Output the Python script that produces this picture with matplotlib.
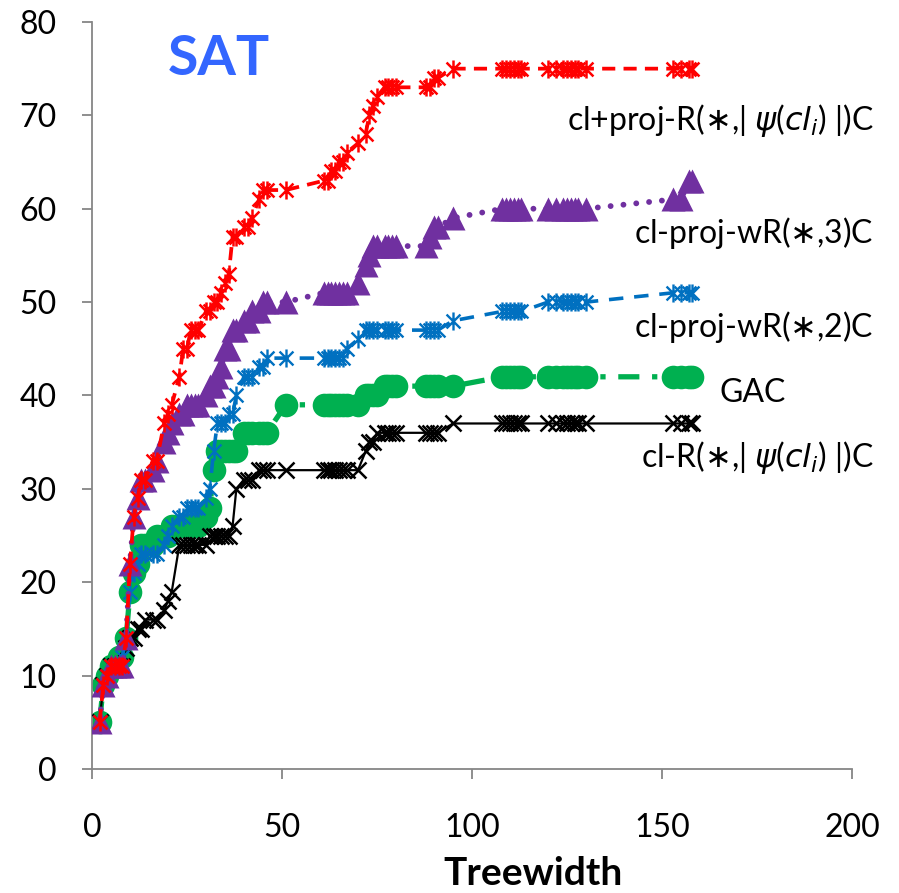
import numpy as np
import matplotlib
matplotlib.use("Agg")
import matplotlib.pyplot as plt
from matplotlib.path import Path

# treewidth of each benchmark instance (shared by all series)
treewidth = [2, 3, 4, 5, 6, 7, 8, 9, 10,
             11, 12, 13, 14, 16, 17, 19, 20, 21,
             23, 24, 25, 26, 27, 28, 30, 31, 32,
             33, 34, 35, 36, 37, 38, 40, 41, 42,
             44, 45, 46, 51, 61, 62, 63, 64, 65,
             66, 67, 70, 72, 73, 74, 75, 77, 78,
             79, 80, 88, 89, 90, 91, 95, 108, 109,
             110, 111, 112, 113, 120, 122, 124, 125, 126,
             127, 128, 130, 153, 155, 157, 158]

# solved instances (cumulative) per algorithm
cl_proj_R = [5, 9, 10, 11, 11, 11, 11, 14, 22,
             27, 29, 31, 31, 33, 33, 37, 38, 39,
             42, 45, 45, 47, 47, 47, 49, 49, 50,
             50, 51, 52, 53, 57, 57, 58, 58, 59,
             61, 62, 62, 62, 63, 63, 64, 64, 65,
             65, 66, 67, 68, 70, 71, 72, 73, 73,
             73, 73, 73, 73, 74, 74, 75, 75, 75,
             75, 75, 75, 75, 75, 75, 75, 75, 75,
             75, 75, 75, 75, 75, 75, 75]
cl_proj_wR3 = [5, 9, 10, 11, 11, 11, 11, 14, 22,
               27, 29, 31, 31, 32, 33, 35, 36, 37,
               38, 38, 39, 39, 39, 39, 40, 41, 41,
               42, 43, 45, 45, 47, 47, 48, 48, 49,
               49, 50, 50, 50, 51, 51, 51, 51, 51,
               51, 51, 52, 54, 55, 56, 56, 56, 56,
               56, 56, 56, 57, 58, 58, 59, 60, 60,
               60, 60, 60, 60, 60, 60, 60, 60, 60,
               60, 60, 60, 61, 61, 63, 63]
cl_proj_wR2 = [5, 9, 10, 11, 11, 11, 12, 14, 19,
               21, 22, 23, 23, 23, 23, 24, 25, 26,
               27, 27, 28, 28, 28, 28, 29, 30, 34,
               37, 37, 37, 38, 38, 40, 42, 42, 42,
               43, 43, 44, 44, 44, 44, 44, 44, 44,
               44, 45, 46, 47, 47, 47, 47, 47, 47,
               47, 47, 47, 47, 47, 47, 48, 49, 49,
               49, 49, 49, 49, 50, 50, 50, 50, 50,
               50, 50, 50, 51, 51, 51, 51]
gac = [5, 9, 10, 11, 11, 12, 12, 14, 19,
       21, 22, 24, 24, 24, 25, 25, 25, 26,
       26, 26, 26, 26, 26, 26, 27, 28, 32,
       34, 34, 34, 34, 34, 34, 36, 36, 36,
       36, 36, 36, 39, 39, 39, 39, 39, 39,
       39, 39, 39, 40, 40, 40, 40, 41, 41,
       41, 41, 41, 41, 41, 41, 41, 42, 42,
       42, 42, 42, 42, 42, 42, 42, 42, 42,
       42, 42, 42, 42, 42, 42, 42]
cl_R = [5, 9, 10, 11, 11, 11, 11, 13, 14,
        14, 15, 15, 16, 16, 16, 17, 18, 19,
        24, 24, 24, 24, 24, 24, 24, 25, 25,
        25, 25, 25, 25, 26, 30, 31, 31, 31,
        32, 32, 32, 32, 32, 32, 32, 32, 32,
        32, 32, 32, 34, 35, 35, 36, 36, 36,
        36, 36, 36, 36, 36, 36, 37, 37, 37,
        37, 37, 37, 37, 37, 37, 37, 37, 37,
        37, 37, 37, 37, 37, 37, 37]

labels = [r"cl+proj-R($\ast$,| $\psi$($cl_i$) |)C", r"cl-proj-wR($\ast$,3)C",
          r"cl-proj-wR($\ast$,2)C", "GAC", r"cl-R($\ast$,| $\psi$($cl_i$) |)C"]
label_pos = [(205.8, 68.4), (205.8, 56.3), (205.8, 46.25), (182.7, 39.3), (205.8, 32.3)]

plt.rcParams["font.family"] = ["Lato", "DejaVu Sans"]
plt.rcParams["mathtext.fontset"] = "dejavusans"

# excel-like star marker: an x with a vertical bar through it
star = Path([(-1, -1), (1, 1), (-1, 1), (1, -1), (0, -1.3), (0, 1.3)],
            [Path.MOVETO, Path.LINETO, Path.MOVETO, Path.LINETO, Path.MOVETO, Path.LINETO])

fig = plt.figure(figsize=(8.99, 8.93), dpi=100)
ax = fig.add_axes([0.1023, 0.1389, 0.8454, 0.8365])

ax.plot(treewidth, gac, color="#00B050", lw=3.8, dashes=(4, 2.4, 1, 2.4),
        marker="o", ms=17, mec="none", zorder=2)
ax.plot(treewidth, cl_R, color="black", lw=1.6, marker="x", ms=12, mew=1.8, zorder=3)
ax.plot(treewidth, cl_proj_wR2, color="#0070C0", lw=2.6, dashes=(4, 3),
        marker=star, ms=13, mew=1.7, mfc="none", zorder=4)
ax.plot(treewidth, cl_proj_wR3, color="#7030A0", lw=4.2, dashes=(0.01, 2.2),
        dash_capstyle="round", marker="^", ms=17, mec="none", zorder=5)
ax.plot(treewidth, cl_proj_R, color="#FF0000", lw=2.7, dashes=(3.5, 2.2),
        marker=star, ms=13, mew=1.8, mfc="none", zorder=6)

for text, (x, y) in zip(labels, label_pos):
    ax.text(x, y, text, ha="right", va="baseline", fontsize=23, clip_on=False)

ax.text(19.9, 74.3, "SAT", color="#3366FF", fontsize=40, fontweight="bold",
        ha="left", va="baseline")

ax.set_xlim(0, 200)
ax.set_ylim(0, 80)
ax.set_xticks(np.arange(0, 201, 50))
ax.set_yticks(np.arange(0, 81, 10))
for s in ["top", "right"]:
    ax.spines[s].set_visible(False)
for s in ["left", "bottom"]:
    ax.spines[s].set_color("#868686")
    ax.spines[s].set_linewidth(1.3)
ax.tick_params(axis="both", direction="out", length=7.5, width=1.3, color="#868686",
               labelsize=23)
ax.tick_params(axis="x", pad=24)
ax.tick_params(axis="y", pad=18)

fig.text(533 / 899, 8 / 893, "Treewidth", ha="center", va="baseline",
         fontsize=28, fontweight="bold")

fig.savefig("out.png", dpi=100)
